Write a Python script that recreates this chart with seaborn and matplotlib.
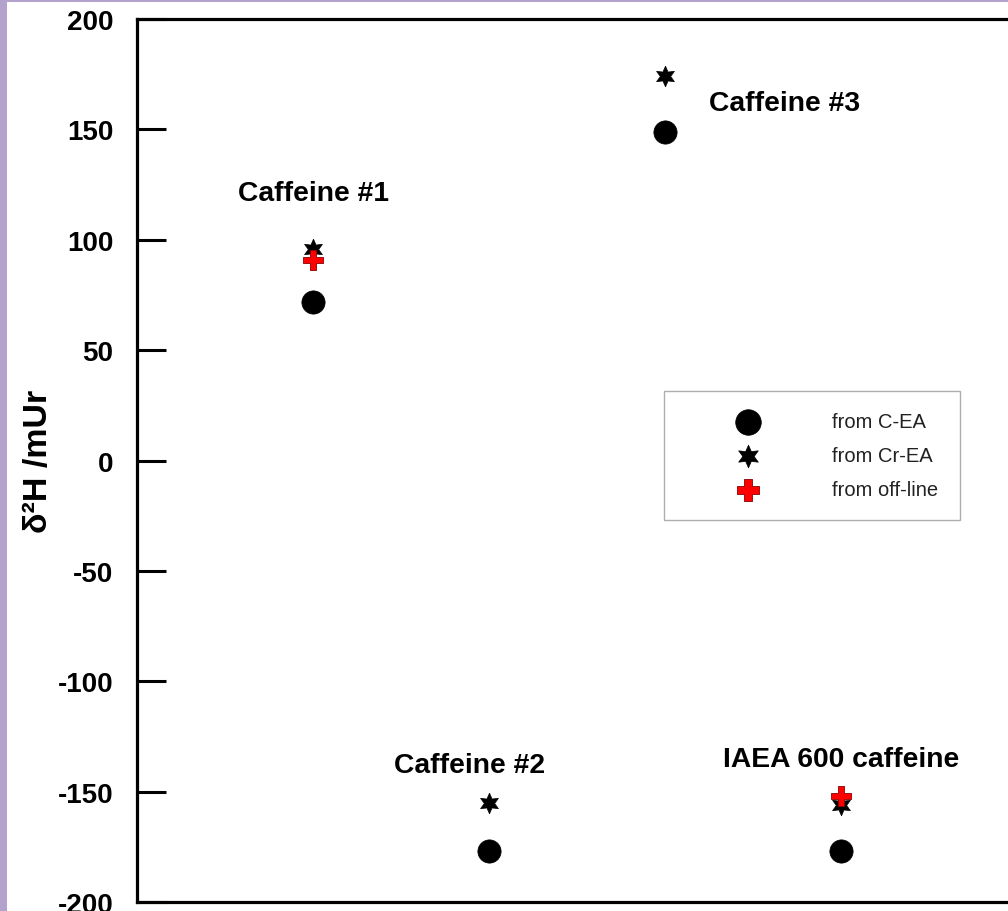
import matplotlib
matplotlib.use('Agg')
import matplotlib.pyplot as plt
import seaborn as sns
import pandas as pd
from matplotlib.patches import Rectangle

# ------------------------------------------------------------
# data
# ------------------------------------------------------------
samples   = ['Caffeine #1', 'Caffeine #2', 'Caffeine #3', 'IAEA 600 caffeine']
sample_x  = [1, 2, 3, 4]
c_ea      = [72, -177, 149, -177]        # from C-EA
cr_ea     = [96, -155, 174, -156]        # from Cr-EA
offline_x = [1, 4]
offline   = [91, -152]                   # from off-line

label_dx = [0.0, -0.11, 0.68, 0.0]
label_y  = [121, -138, 162, -135]

sns.set_theme(style='white')
plt.rcParams['font.family'] = ['Liberation Sans', 'DejaVu Sans']
plt.rcParams['axes.unicode_minus'] = False

fig = plt.figure(figsize=(10.08, 9.12), dpi=100)
fig.patch.set_facecolor('#b3a2cb')
fig.patches.append(Rectangle((7 / 1008, 0), 1, (912 - 3) / 912,
                             transform=fig.transFigure, facecolor='white',
                             edgecolor='none', zorder=-10))

ax = fig.add_axes([137 / 1008, 9 / 912, 880 / 1008, 883 / 912])
ax.set_facecolor('white')
ax.set_zorder(1)

df_c  = pd.DataFrame({'x': sample_x, 'y': c_ea})
df_cr = pd.DataFrame({'x': sample_x, 'y': cr_ea})
df_o  = pd.DataFrame({'x': offline_x, 'y': offline})

sns.scatterplot(data=df_c, x='x', y='y', ax=ax, marker='o', s=280,
                color='black', edgecolor='black', linewidth=0.5,
                label='from C-EA', zorder=3)
sns.scatterplot(data=df_cr, x='x', y='y', ax=ax, marker=(6, 1, 0), s=220,
                color='black', edgecolor='black', linewidth=0.5,
                label='from Cr-EA', zorder=4)
sns.scatterplot(data=df_o, x='x', y='y', ax=ax, marker='P', s=220,
                color='#ff0000', edgecolor='#8b0000', linewidth=0.6,
                label='from off-line', zorder=5)

for name, xx, dx, yy in zip(samples, sample_x, label_dx, label_y):
    ax.text(xx + dx, yy, name, ha='center', va='center',
            fontsize=20.3, fontweight='bold', color='black')

ax.set_xlim(0, 5)
ax.set_ylim(-200, 200)
ax.set_yticks([-200, -150, -100, -50, 0, 50, 100, 150, 200])
ax.set_xticks([])
ax.set_xlabel('')
ax.set_ylabel('δ²H /mUr', fontsize=24.5, fontweight='bold', color='black')
ax.yaxis.set_label_coords(-0.094, 0.5)

ax.tick_params(axis='y', left=True, direction='in', length=21, width=2.2,
               pad=17, labelsize=20, color='black', labelcolor='black')
for lbl in ax.get_yticklabels():
    lbl.set_fontweight('bold')

for s in ax.spines.values():
    s.set_linewidth(2.3)
    s.set_color('black')

leg = ax.legend(loc='upper left', bbox_to_anchor=(0.599, 0.579),
                borderaxespad=0, fontsize=14.5, frameon=True, fancybox=False,
                borderpad=1.05, handlelength=6.2, handletextpad=1.1,
                labelspacing=0.75, markerscale=1.1)
leg.get_frame().set_edgecolor('#999999')
leg.get_frame().set_linewidth(1.0)
for t in leg.get_texts():
    t.set_color('#222222')

plt.savefig('out.png', dpi=100, facecolor=fig.get_facecolor())
